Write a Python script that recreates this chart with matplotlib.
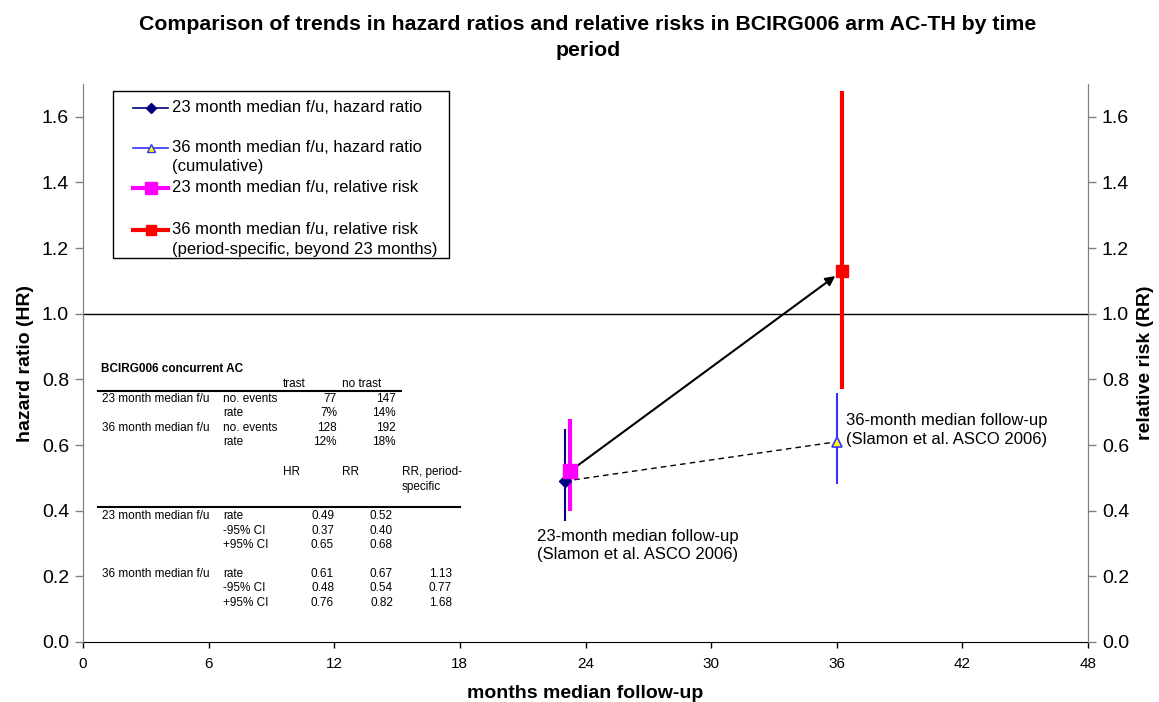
import matplotlib
matplotlib.use("Agg")
import matplotlib.pyplot as plt
from matplotlib.lines import Line2D
from matplotlib.patches import Rectangle

plt.rcParams['font.family'] = ['Liberation Sans', 'DejaVu Sans']

# ---- data ----
hr_x = [23.0, 36.0]            # HR points (23 and 36 month median f/u)
hr_val = [0.49, 0.61]
hr_lo = [0.37, 0.48]
hr_hi = [0.65, 0.76]

rr_x = [23.25, 36.25]          # RR points (23 month cumulative, 36 month period-specific)
rr_val = [0.52, 1.13]
rr_lo = [0.40, 0.77]
rr_hi = [0.68, 1.68]

x_ticks = [0, 6, 12, 18, 24, 30, 36, 42, 48]
y_ticks = [0.0, 0.2, 0.4, 0.6, 0.8, 1.0, 1.2, 1.4, 1.6]

legend_labels = ["23 month median f/u, hazard ratio",
                 "36 month median f/u, hazard ratio\n(cumulative)",
                 "23 month median f/u, relative risk",
                 "36 month median f/u, relative risk\n(period-specific, beyond 23 months)"]

# table contents
tab_title = "BCIRG006 concurrent AC"
tab1_header = ["trast", "no trast"]
tab1_rows = [["23 month median f/u", "no. events", "77", "147"],
             ["", "rate", "7%", "14%"],
             ["36 month median f/u", "no. events", "128", "192"],
             ["", "rate", "12%", "18%"]]
tab2_header = ["HR", "RR", "RR, period-\nspecific"]
tab2_rows = [["23 month median f/u", "rate", "0.49", "0.52", ""],
             ["", "-95% CI", "0.37", "0.40", ""],
             ["", "+95% CI", "0.65", "0.68", ""],
             ["36 month median f/u", "rate", "0.61", "0.67", "1.13"],
             ["", "-95% CI", "0.48", "0.54", "0.77"],
             ["", "+95% CI", "0.76", "0.82", "1.68"]]

W, H = 1159, 702
fig = plt.figure(figsize=(W / 100, H / 100), dpi=100)
AX_L, AX_R, AX_T, AX_B = 83, 1088, 84, 642
ax = fig.add_axes([AX_L / W, (H - AX_B) / H, (AX_R - AX_L) / W, (AX_B - AX_T) / H])
ax.set_xlim(0, 48)
ax.set_ylim(0, 1.7)


def fx(px):
    return px / W


def fy(py):
    return 1 - py / H


GRAY = '#808080'

# reference line at 1.0
ax.axhline(1.0, color='black', lw=1.0, zorder=1)

# confidence intervals
ax.vlines(hr_x[0], hr_lo[0], hr_hi[0], color='#000080', lw=1.5, zorder=2)
ax.vlines(hr_x[1], hr_lo[1], hr_hi[1], color='#3333ff', lw=1.5, zorder=2)
ax.vlines(rr_x[0], rr_lo[0], rr_hi[0], color='#ff00ff', lw=3, zorder=2)
ax.vlines(rr_x[1], rr_lo[1], rr_hi[1], color='#ff0000', lw=3, zorder=2)

# trend lines
ax.plot(hr_x, hr_val, ls=(0, (4, 3)), color='black', lw=1.0, zorder=3)
ax.annotate("", xy=(rr_x[1], rr_val[1]), xytext=(rr_x[0], rr_val[0]),
            arrowprops=dict(arrowstyle='-|>', color='black', lw=1.5,
                            mutation_scale=14, shrinkA=4, shrinkB=6), zorder=3)

# markers
ax.plot(hr_x[0], hr_val[0], marker='D', ms=6, color='#000080', ls='none', zorder=4)
ax.plot(hr_x[1], hr_val[1], marker='^', ms=7, mfc='#ffff00', mec='#3333ff', mew=1.2, ls='none', zorder=4)
ax.plot(rr_x[0], rr_val[0], marker='s', ms=9.5, color='#ff00ff', ls='none', zorder=4)
ax.plot(rr_x[1], rr_val[1], marker='s', ms=8, color='#ff0000', ls='none', zorder=4)

# annotations
fig.text(fx(537), fy(537), "23-month median follow-up", fontsize=12, va='center', ha='left')
fig.text(fx(537), fy(554), "(Slamon et al. ASCO 2006)", fontsize=12, va='center', ha='left')
fig.text(fx(846), fy(420), "36-month median follow-up", fontsize=12, va='center', ha='left')
fig.text(fx(846), fy(440), "(Slamon et al. ASCO 2006)", fontsize=12, va='center', ha='left')

# axes styling
ax.set_xticks(x_ticks)
ax.set_yticks(y_ticks)
ax.set_yticklabels([f"{v:.1f}" for v in y_ticks])
ax.tick_params(axis='x', labelsize=11, direction='out', length=4, width=1, pad=7)
ax.tick_params(axis='y', labelsize=14, direction='out', length=6, width=1, color=GRAY, pad=4)
ax.set_xlabel("months median follow-up", fontsize=14, fontweight='bold', labelpad=10)
ax.set_ylabel("hazard ratio (HR)", fontsize=14, fontweight='bold', labelpad=6)
ax.spines['top'].set_visible(False)
ax.spines['left'].set_color(GRAY)
ax.spines['right'].set_color(GRAY)
ax.spines['bottom'].set_color('black')

ax2 = ax.twinx()
ax2.set_ylim(0, 1.7)
ax2.set_yticks(y_ticks)
ax2.set_yticklabels([f"{v:.1f}" for v in y_ticks])
ax2.tick_params(axis='y', labelsize=14, direction='out', length=6, width=1, color=GRAY, pad=4)
ax2.set_ylabel("relative risk (RR)", fontsize=14, fontweight='bold', labelpad=6)
ax2.spines['top'].set_visible(False)
ax2.spines['left'].set_color(GRAY)
ax2.spines['right'].set_color(GRAY)
ax2.spines['bottom'].set_visible(False)

fig.text(fx(588), fy(25), "Comparison of trends in hazard ratios and relative risks in BCIRG006 arm AC-TH by time",
         fontsize=15.3, fontweight='bold', ha='center', va='center')
fig.text(fx(588), fy(50), "period", fontsize=15.3, fontweight='bold', ha='center', va='center')

# legend (Excel-style box with handles on the first line of each entry)
fig.add_artist(Rectangle((fx(113), fy(258)), fx(449) - fx(113), fy(91) - fy(258),
                         transform=fig.transFigure, fill=True, facecolor='white',
                         edgecolor='black', lw=1.0, zorder=5))
leg_styles = [
    dict(color='#000080', lw=1.2, marker='D', ms=5),
    dict(color='#3333ff', lw=1.2, marker='^', ms=6, mfc='#ffff00', mec='#3333ff'),
    dict(color='#ff00ff', lw=3, marker='s', ms=9),
    dict(color='#ff0000', lw=3, marker='s', ms=7),
]
leg_y = [108, 148, 188, 230]
for style, lab, y in zip(leg_styles, legend_labels, leg_y):
    fig.add_artist(Line2D([fx(133), fx(168)], [fy(y), fy(y)], transform=fig.transFigure,
                          zorder=6, **{k: v for k, v in style.items() if k not in ('marker', 'ms', 'mfc', 'mec')}))
    fig.add_artist(Line2D([fx(150.5)], [fy(y)], transform=fig.transFigure, zorder=7, ls='none',
                          **{k: v for k, v in style.items() if k != 'lw'}))
    for i, line in enumerate(lab.split("\n")):
        fig.text(fx(172), fy(y + 19 * i), line, fontsize=12, va='center', ha='left', zorder=7)

# table
tfs = 8.5
fig.text(fx(101), fy(369), tab_title, fontsize=tfs, fontweight='bold', va='center', ha='left')
fig.text(fx(294), fy(384), tab1_header[0], fontsize=tfs, va='center', ha='center')
fig.text(fx(362), fy(384), tab1_header[1], fontsize=tfs, va='center', ha='center')
fig.add_artist(Line2D([fx(98), fx(401)], [fy(391), fy(391)], transform=fig.transFigure, color='black', lw=1.5))
row_y1 = [399, 413, 428, 442]
for r, y in zip(tab1_rows, row_y1):
    fig.text(fx(102), fy(y), r[0], fontsize=tfs, va='center', ha='left')
    fig.text(fx(223), fy(y), r[1], fontsize=tfs, va='center', ha='left')
    fig.text(fx(337), fy(y), r[2], fontsize=tfs, va='center', ha='right')
    fig.text(fx(396), fy(y), r[3], fontsize=tfs, va='center', ha='right')
fig.text(fx(283), fy(472), tab2_header[0], fontsize=tfs, va='center', ha='left')
fig.text(fx(342), fy(472), tab2_header[1], fontsize=tfs, va='center', ha='left')
hdr = tab2_header[2].split("\n")
fig.text(fx(402), fy(472), hdr[0], fontsize=tfs, va='center', ha='left')
fig.text(fx(402), fy(487), hdr[1], fontsize=tfs, va='center', ha='left')
fig.add_artist(Line2D([fx(98), fx(460)], [fy(507), fy(507)], transform=fig.transFigure, color='black', lw=1.5))
row_y2 = [516, 531, 545, 574, 588, 603]
for r, y in zip(tab2_rows, row_y2):
    fig.text(fx(102), fy(y), r[0], fontsize=tfs, va='center', ha='left')
    fig.text(fx(223), fy(y), r[1], fontsize=tfs, va='center', ha='left')
    fig.text(fx(334), fy(y), r[2], fontsize=tfs, va='center', ha='right')
    fig.text(fx(393), fy(y), r[3], fontsize=tfs, va='center', ha='right')
    fig.text(fx(452), fy(y), r[4], fontsize=tfs, va='center', ha='right')

fig.savefig("out.png", dpi=100)
